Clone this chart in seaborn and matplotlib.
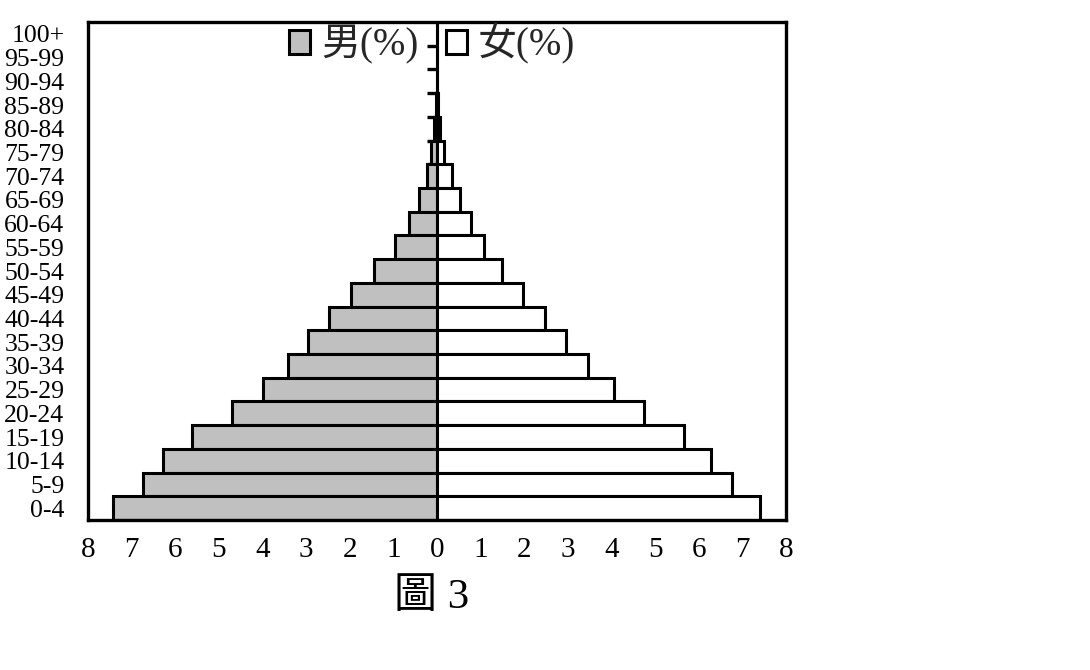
import matplotlib
matplotlib.use("Agg")
import matplotlib.pyplot as plt
import seaborn as sns
import pandas as pd
from matplotlib.patches import Patch
from matplotlib.ticker import FixedLocator, FuncFormatter

ages = ["100+", "95-99", "90-94", "85-89", "80-84", "75-79", "70-74", "65-69",
        "60-64", "55-59", "50-54", "45-49", "40-44", "35-39", "30-34", "25-29",
        "20-24", "15-19", "10-14", "5-9", "0-4"]
male = [0.0, 0.0, 0.01, 0.03, 0.07, 0.14, 0.23, 0.41, 0.64, 0.96, 1.44, 1.97,
        2.48, 2.96, 3.42, 3.99, 4.70, 5.62, 6.28, 6.74, 7.43]
female = [0.0, 0.0, 0.01, 0.03, 0.07, 0.16, 0.34, 0.53, 0.78, 1.08, 1.49, 1.97,
          2.48, 2.96, 3.46, 4.06, 4.75, 5.67, 6.28, 6.77, 7.41]
male_label = "男(%)"
female_label = "女(%)"
title = "圖 3"

FAM = ["Liberation Serif", "Noto Sans CJK TC", "DejaVu Sans"]

sns.set_theme(style="white")
plt.rcParams["font.family"] = FAM

df = pd.DataFrame({
    "age": ages * 2,
    "value": [-v for v in male] + list(female),
    "sex": [male_label] * len(ages) + [female_label] * len(ages),
})

fig = plt.figure(figsize=(10.9, 6.7), dpi=100)
ax = fig.add_axes([88 / 1090, 1 - 520 / 670, (786 - 88) / 1090, (520 - 22) / 670])

sns.barplot(data=df, x="value", y="age", hue="sex", order=ages,
            hue_order=[male_label, female_label], dodge=False, width=1.0,
            palette={male_label: "#c0c0c0", female_label: "white"},
            edgecolor="black", linewidth=2.2, orient="h", ax=ax, legend=False)

ax.set_xlim(-8, 8)
ax.set_ylim(len(ages) - 0.5, -0.5)
ax.set_xlabel("")
ax.set_ylabel("")

for s in ax.spines.values():
    s.set_visible(True)
    s.set_color("black")
    s.set_linewidth(2.4)

ax.xaxis.set_major_locator(FixedLocator(list(range(-8, 9))))
ax.xaxis.set_major_formatter(FuncFormatter(lambda v, p: f"{abs(int(round(v)))}"))
ax.tick_params(axis="x", length=0, pad=12, labelsize=21, labelcolor="black")
ax.tick_params(axis="y", length=0, pad=17, labelsize=18.5, labelcolor="black")
for lab in ax.get_xticklabels() + ax.get_yticklabels():
    lab.set_family(FAM)

# central axis with boundary ticks
sec = ax.secondary_yaxis(0.5)
sec.spines["left"].set_linewidth(2.4)
sec.spines["left"].set_color("black")
sec.set_yticks([i + 0.5 for i in range(len(ages) - 1)])
sec.set_yticklabels([])
sec.tick_params(axis="y", which="both", direction="out", length=7, width=2.4,
                color="black", left=True, right=False,
                labelleft=False, labelright=False)

handles = [Patch(facecolor="#c0c0c0", edgecolor="black", linewidth=2.2, label=male_label),
           Patch(facecolor="white", edgecolor="black", linewidth=2.2, label=female_label)]
ax.legend(handles=handles, ncol=2, loc="center", bbox_to_anchor=(0.493, 0.956),
          frameon=False, prop={"family": FAM, "size": 28}, handlelength=0.55,
          handleheight=0.55, handletextpad=0.28, columnspacing=0.7,
          borderpad=0, borderaxespad=0)

fig.text(432 / 1090, 1 - 598 / 670, title, ha="center", va="center",
         fontsize=31, family=FAM, color="black")

fig.savefig("out.png", dpi=100, facecolor="white")
